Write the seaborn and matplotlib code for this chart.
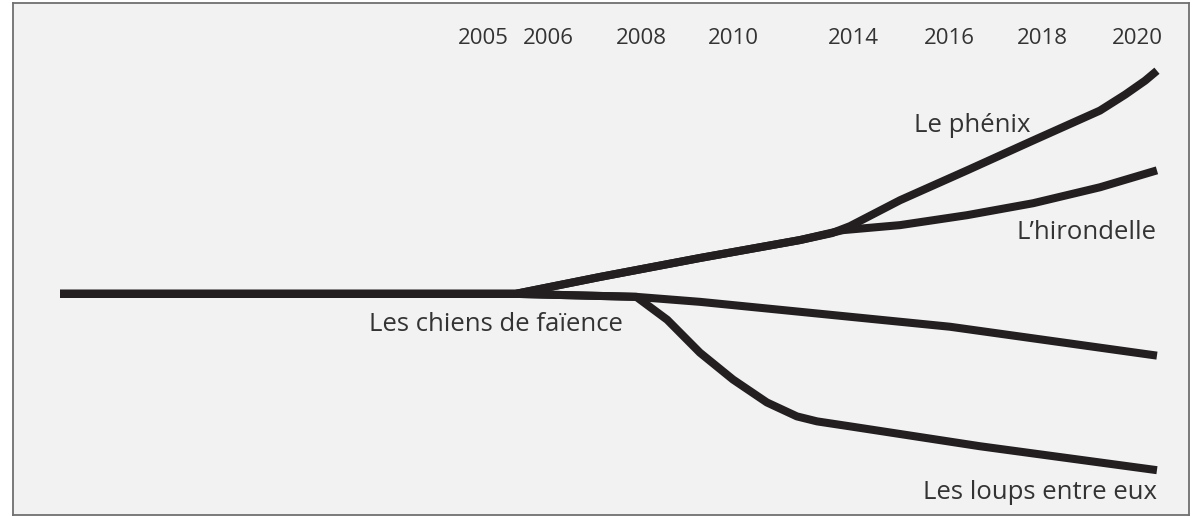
import numpy as np
import pandas as pd
import matplotlib
matplotlib.use("Agg")
import matplotlib.pyplot as plt
import seaborn as sns

# ---- data -------------------------------------------------------------
tick_years = [2005, 2006, 2008, 2010, 2014, 2016, 2018, 2020]
tick_labels = ["2005", "2006", "2008", "2010", "2014", "2016", "2018", "2020"]

phenix_years = [1999, 2005.5, 2007.12, 2009.28, 2012.23, 2013.3, 2013.9, 2014.98, 2016.39, 2017.81, 2019.22, 2019.75, 2020.17, 2020.42]
phenix_vals = [100, 100, 108.5, 118, 127, 130.5, 134, 147, 162, 177, 192, 200, 207, 212]

hirondelle_years = [1999, 2005.5, 2007.12, 2009.28, 2012.23, 2013.67, 2014.98, 2016.39, 2017.81, 2019.22, 2020.42]
hirondelle_vals = [100, 100, 108.5, 118, 127, 132, 134.5, 139.5, 145.5, 153.5, 162]

chiens_years = [1999, 2005.5, 2007.9, 2009.28, 2011.57, 2016.02, 2020.42]
chiens_vals = [100, 100, 98.5, 96, 92, 83.5, 69]

loups_years = [1999, 2005.5, 2007.9, 2008.57, 2009.28, 2010.0, 2011.13, 2012.13, 2012.8, 2013.9, 2016.67, 2020.42]
loups_vals = [100, 100, 98.5, 87, 70.5, 57, 45.5, 38.5, 36, 33.5, 23.5, 11.5]

scenario_names = ["Les loups entre eux", "Les chiens de faïence", "L\u2019hirondelle", "Le phénix"]

# ---- styling ----------------------------------------------------------
sns.set_theme(style="white")
plt.rcParams["font.family"] = ["Open Sans", "DejaVu Sans"]

LINE = "#231f20"
TEXT = "#333333"

fig = plt.figure(figsize=(12.02, 5.17), dpi=100, facecolor="white")
W, H = 1202, 517
ax = fig.add_axes([13 / W, 2 / H, (1189 - 13) / W, (514 - 2) / H])
ax.set_facecolor("#f2f2f2")

# non-linear timeline scale, as in the original diagram
knot_years = [1990, 1999, 2005, 2006, 2008, 2010, 2014, 2016, 2018, 2020, 2030]
knot_pos = [-574.5, 60, 483, 548, 641, 733, 853, 949, 1042, 1137, 1612]


def fwd(x):
    return np.interp(x, knot_years, knot_pos)


def inv(p):
    return np.interp(p, knot_pos, knot_years)


ax.set_xscale("function", functions=(fwd, inv))

frames = []
for name, xs, ys in [
    (scenario_names[0], loups_years, loups_vals),
    (scenario_names[1], chiens_years, chiens_vals),
    (scenario_names[2], hirondelle_years, hirondelle_vals),
    (scenario_names[3], phenix_years, phenix_vals),
]:
    frames.append(pd.DataFrame({"scenario": name, "year": xs, "value": ys}))
df = pd.concat(frames, ignore_index=True)

for name in scenario_names:
    sub = df[df["scenario"] == name]
    sns.lineplot(data=sub, x="year", y="value", sort=False, estimator=None,
                 color=LINE, linewidth=5.8, ax=ax, legend=False,
                 solid_capstyle="butt", solid_joinstyle="round")

ax.set_xlim(inv(13), inv(1189))
ax.set_ylim(-11, 246)
ax.set_xticks([])
ax.set_yticks([])
ax.set_xlabel("")
ax.set_ylabel("")

for s in ax.spines.values():
    s.set_color("#707070")
    s.set_linewidth(1.3)

# year labels along the top
for yr, lab in zip(tick_years, tick_labels):
    ax.text(yr, 1 - 36 / 512, lab, transform=ax.get_xaxis_transform(),
            ha="center", va="center", fontsize=16, color=TEXT)

# scenario labels
FS = 18.5
ax.text(2017.75, 184.5, scenario_names[3], ha="right", va="center", fontsize=FS, color=TEXT)
ax.text(2020.42, 131, scenario_names[2], ha="right", va="center", fontsize=FS, color=TEXT)
ax.text(2005.2, 84.5, scenario_names[1], ha="center", va="center", fontsize=FS, color=TEXT)
ax.text(2020.42, 0.5, scenario_names[0], ha="right", va="center", fontsize=FS, color=TEXT)

fig.savefig("out.png", dpi=100, facecolor="white")
